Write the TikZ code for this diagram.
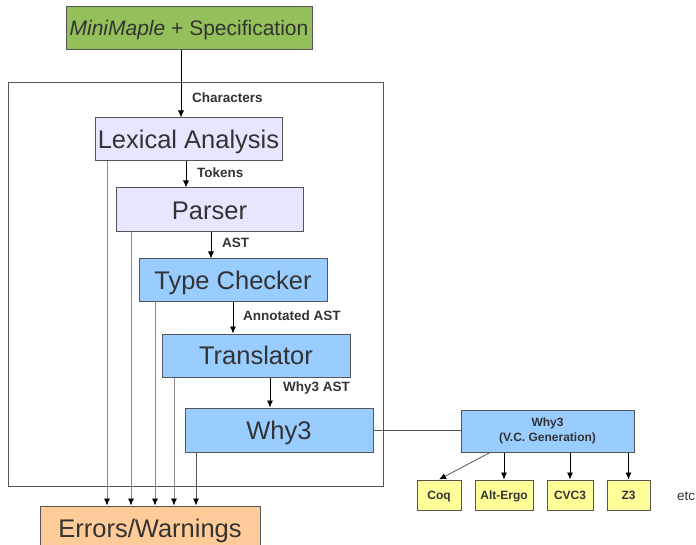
\documentclass[tikz,border=0pt]{standalone}
\usepackage{fontspec}
\setmainfont{Liberation Sans}
\usetikzlibrary{arrows.meta,calc}
\definecolor{txt}{HTML}{333333}
\definecolor{edge}{HTML}{555555}
\definecolor{greenfill}{HTML}{93C05A}
\definecolor{lavfill}{HTML}{E6E6FF}
\definecolor{bluefill}{HTML}{99CCFF}
\definecolor{yelfill}{HTML}{FFFF99}
\definecolor{orfill}{HTML}{FFCC99}
\definecolor{errline}{HTML}{8A8A8A}
\tikzset{
  box/.style={draw=edge, line width=1pt, inner sep=0pt, text=txt, align=center},
  bigbox/.style={box, minimum height=43pt, text height=18.3pt, text depth=0pt, font=\fontsize{25.5}{30}\selectfont},
  prover/.style={box, fill=yelfill, minimum height=30pt, text height=8.6pt, text depth=0pt, font=\bfseries\fontsize{12}{14}\selectfont},
  lbl/.style={anchor=west, inner sep=0pt, text=txt, font=\bfseries\fontsize{13.5}{16}\selectfont},
  arr/.style={-{Latex[length=7pt,width=6pt,color=black]}, line width=0.8pt, draw=black},
  errarr/.style={arr, draw=errline}
}
\begin{document}
\begin{tikzpicture}[x=1pt,y=-1pt]
\useasboundingbox (0,0) rectangle (696,545);
% outer frame
\draw[edge, line width=1pt] (8,83) rectangle (383,486);
% nodes
\node[box, fill=greenfill, minimum width=246pt, minimum height=43pt, text height=15pt, text depth=0pt, font=\fontsize{21}{25}\selectfont] (top) at (189,28.5) {\textit{MiniMaple} + Specification};
\node[bigbox, fill=lavfill, minimum width=187pt] (lex) at (188.5,139.5) {Lexical Analysis};
\node[bigbox, fill=lavfill, minimum width=187pt, minimum height=44pt] (par) at (209.5,210) {Parser};
\node[bigbox, fill=bluefill, minimum width=188pt] (tc) at (233,280.5) {Type Checker};
\node[bigbox, fill=bluefill, minimum width=188pt] (tr) at (256,355.5) {Translator};
\node[bigbox, fill=bluefill, minimum width=188pt, minimum height=44pt] (why) at (279,430) {Why3};
\node[box, fill=bluefill, minimum width=173pt, minimum height=42pt, font=\bfseries\fontsize{12}{14.5}\selectfont] (vc) at (547.5,431) {Why3\\(V.C. Generation)};
\node[prover, minimum width=44pt] (coq) at (439,495) {Coq};
\node[prover, minimum width=58pt] (alt) at (504,495) {Alt-Ergo};
\node[prover, minimum width=46pt] (cvc) at (570,495) {CVC3};
\node[prover, minimum width=43pt] (z3) at (628.5,495) {Z3};
\node[anchor=center, inner sep=0pt, text=txt, font=\fontsize{13.5}{16}\selectfont] (etc) at (686,496) {etc};
\node[bigbox, fill=orfill, minimum width=220pt, minimum height=44pt] (err) at (150,528) {Errors/Warnings};
% helper x positions
\coordinate (a1) at (181,0);
\coordinate (a2) at (186,0);
\coordinate (a3) at (211,0);
\coordinate (a4) at (233,0);
\coordinate (a5) at (270,0);
\coordinate (e1) at (107,0);
\coordinate (e2) at (131,0);
\coordinate (e3) at (155,0);
\coordinate (e4) at (174,0);
\coordinate (e5) at (196,0);
\coordinate (v1) at (490,0);
% main flow
\draw[arr] (top.south -| a1) -- (lex.north -| a1);
\draw[arr] (lex.south -| a2) -- (par.north -| a2);
\draw[arr] (par.south -| a3) -- (tc.north -| a3);
\draw[arr] (tc.south -| a4) -- (tr.north -| a4);
\draw[arr] (tr.south -| a5) -- (why.north -| a5);
% labels
\node[lbl] (lc) at (192,98) {Characters};
\node[lbl] (lt) at (197,173) {Tokens};
\node[lbl] (la) at (222,243) {AST};
\node[lbl] (lan) at (243,316) {Annotated AST};
\node[lbl] (lw) at (283,388) {Why3 AST};
% error lines
\draw[errarr] (lex.south -| e1) -- (err.north -| e1);
\draw[errarr] (par.south -| e2) -- (err.north -| e2);
\draw[errarr] (tc.south -| e3) -- (err.north -| e3);
\draw[errarr] (tr.south -| e4) -- (err.north -| e4);
\draw[arr, draw=edge] (why.south -| e5) -- (err.north -| e5);
% why3 to vc
\draw[edge, line width=0.8pt] (why.east) -- (why.east -| vc.west);
% provers
\draw[arr, draw=edge] (vc.south -| v1) -- (coq.north);
\draw[arr] (vc.south -| alt.north) -- (alt.north);
\draw[arr] (vc.south -| cvc.north) -- (cvc.north);
\draw[arr] (vc.south -| z3.north) -- (z3.north);
\end{tikzpicture}
\end{document}
